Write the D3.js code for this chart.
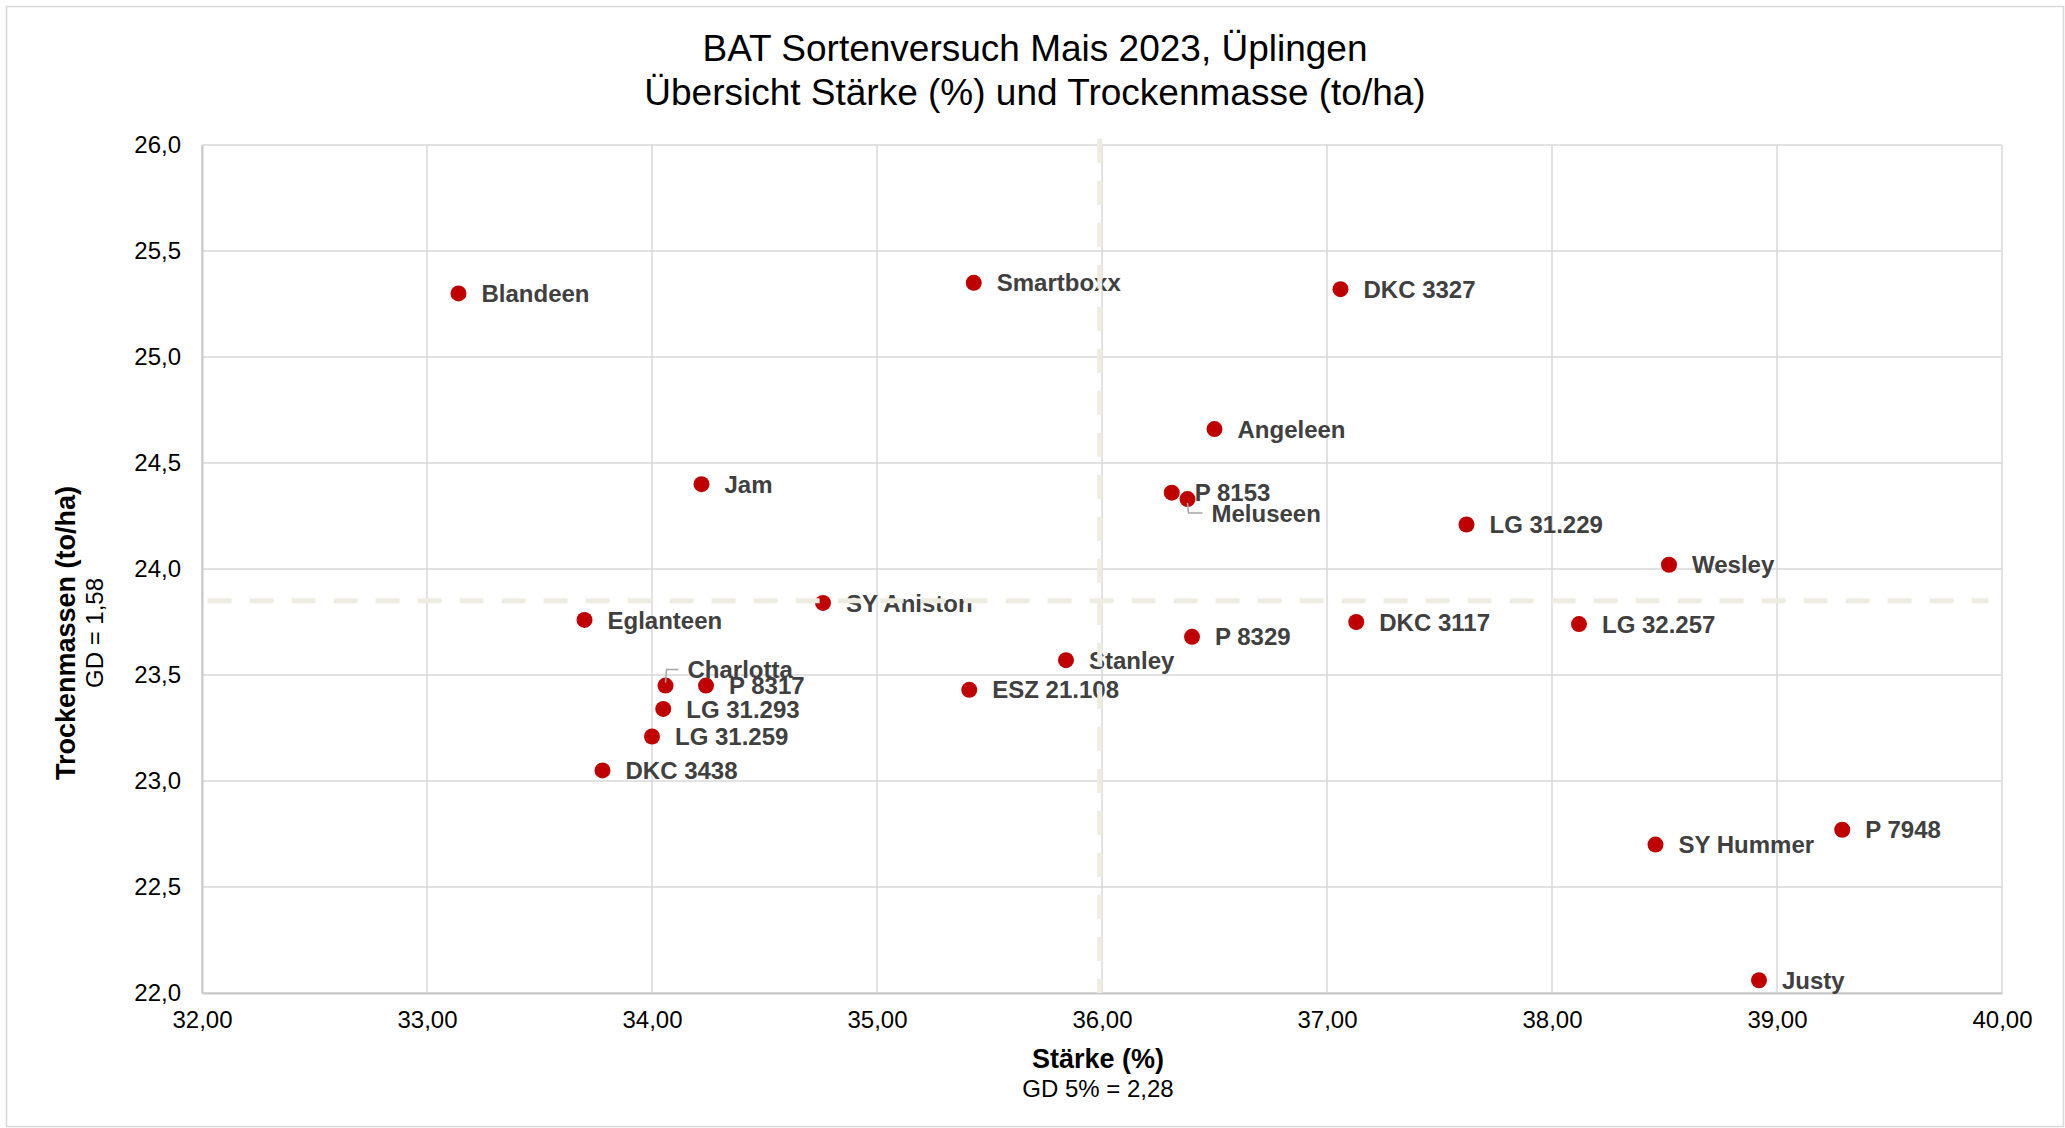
<!DOCTYPE html>
<html>
<head>
<meta charset="utf-8">
<script src="https://cdn.jsdelivr.net/npm/d3@7"></script>
<style>
  body { margin: 0; background: #fff; }
  text { font-family: "Liberation Sans", Arial, sans-serif; }
</style>
</head>
<body>
<div id="chart"></div>
<script>
// Sorten (varieties) and their values
var sorten = ["Blandeen", "Smartboxx", "DKC 3327", "Angeleen", "Jam", "P 8153", "Meluseen",
  "LG 31.229", "Wesley", "SY Aniston", "Eglanteen", "DKC 3117", "LG 32.257", "P 8329",
  "Stanley", "Charlotta", "P 8317", "ESZ 21.108", "LG 31.293", "LG 31.259", "DKC 3438",
  "P 7948", "SY Hummer", "Justy"];
var staerke = [33.14, 35.43, 37.06, 36.50, 34.22, 36.31, 36.38,
  37.62, 38.52, 34.76, 33.70, 37.13, 38.12, 36.40,
  35.84, 34.06, 34.24, 35.41, 34.05, 34.00, 33.78,
  39.29, 38.46, 38.92];
var trockenmasse = [25.30, 25.35, 25.32, 24.66, 24.40, 24.36, 24.33,
  24.21, 24.02, 23.84, 23.76, 23.75, 23.74, 23.68,
  23.57, 23.45, 23.45, 23.43, 23.34, 23.21, 23.05,
  22.77, 22.70, 22.06];
var xTicks = [32, 33, 34, 35, 36, 37, 38, 39, 40];
var yTicks = [22, 22.5, 23, 23.5, 24, 24.5, 25, 25.5, 26];
// Mittelwerte (dashed lines)
var meanStaerke = 35.99;
var meanTM = 23.85;

//Chart dimensions
var W = 2065, H = 1128;
var margin = {top: 145, right: 63, bottom: 135, left: 202};
var w = W - margin.left - margin.right;
var h = H - margin.top - margin.bottom;

// label tweaks (pixel offsets) for crowded points
var labelShift = {
  "Charlotta": {dx: 22, dy: -16, leader: true},
  "Meluseen": {dx: 24, dy: 14, leader: true}
};

var svg = d3.select("#chart").append("svg")
    .attr("width", W).attr("height", H);

// outer chart border
svg.append("rect")
    .attr("x", 6.5).attr("y", 6.5)
    .attr("width", W - 8).attr("height", H - 8)
    .attr("fill", "#fff").attr("stroke", "#D9D9D9").attr("stroke-width", 1.5);

var x = d3.scaleLinear().domain([32, 40]).range([0, w]);
var y = d3.scaleLinear().domain([22, 26]).range([h, 0]);

var g = svg.append("g").attr("transform", "translate(" + margin.left + "," + margin.top + ")");

var fmtX = function(d) { return d3.format(".2f")(d).replace(".", ","); };
var fmtY = function(d) { return d3.format(".1f")(d).replace(".", ","); };

// gridlines
g.append("g").selectAll("line").data(xTicks).join("line")
    .attr("x1", function(d) { return x(d); }).attr("x2", function(d) { return x(d); })
    .attr("y1", 0).attr("y2", h)
    .attr("stroke", "#D9D9D9").attr("stroke-width", 1.5);
g.append("g").selectAll("line").data(yTicks).join("line")
    .attr("x1", 0).attr("x2", w)
    .attr("y1", function(d) { return y(d); }).attr("y2", function(d) { return y(d); })
    .attr("stroke", "#D9D9D9").attr("stroke-width", 1.5);

// axes
var xAxis = g.append("g").attr("transform", "translate(0," + h + ")")
    .call(d3.axisBottom(x).tickValues(xTicks).tickFormat(fmtX).tickSize(0).tickPadding(18));
var yAxis = g.append("g")
    .call(d3.axisLeft(y).tickValues(yTicks).tickFormat(fmtY).tickSize(0).tickPadding(21));
[xAxis, yAxis].forEach(function(a) {
  a.select(".domain").attr("stroke", "#C8C8C8").attr("stroke-width", 2);
  a.selectAll("text").attr("font-size", "24px").attr("fill", "#000")
      .style("font-family", "'Liberation Sans', Arial, sans-serif");
});
xAxis.selectAll("text").attr("dy", "0.71em");

// points
var pts = sorten.map(function(s, i) { return {name: s, x: staerke[i], y: trockenmasse[i]}; });

g.append("g").selectAll("circle").data(pts).join("circle")
    .attr("cx", function(d) { return x(d.x); })
    .attr("cy", function(d) { return y(d.y); })
    .attr("r", 8)
    .attr("fill", "#C00000");

// leader lines
g.append("g").selectAll("path").data(pts.filter(function(d) { return labelShift[d.name]; })).join("path")
    .attr("d", function(d) {
      var cx = x(d.x), cy = y(d.y), s = labelShift[d.name];
      var ty = cy + s.dy;
      return "M" + cx + "," + (cy + (s.dy < 0 ? -3 : 4)) + "L" + (cx + 1) + "," + ty + "L" + (cx + s.dx - 9) + "," + ty;
    })
    .attr("fill", "none").attr("stroke", "#A6A6A6").attr("stroke-width", 1.5);

// labels
g.append("g").selectAll("text").data(pts).join("text")
    .attr("x", function(d) { return x(d.x) + (labelShift[d.name] ? labelShift[d.name].dx : 23); })
    .attr("y", function(d) { return y(d.y) + (labelShift[d.name] ? labelShift[d.name].dy : 0); })
    .attr("dy", "0.36em")
    .attr("font-size", "24px").attr("font-weight", "bold").attr("fill", "#404040")
    .text(function(d) { return d.name; });

// dashed mean lines, drawn on top
g.append("line")
    .attr("x1", x(meanStaerke)).attr("x2", x(meanStaerke))
    .attr("y1", y(26.03)).attr("y2", y(22))
    .attr("stroke", "#EEECE1").attr("stroke-width", 5).attr("stroke-dasharray", "24,18");
g.append("line")
    .attr("x1", x(32.025)).attr("x2", x(39.94))
    .attr("y1", y(meanTM)).attr("y2", y(meanTM))
    .attr("stroke", "#EEECE1").attr("stroke-width", 5).attr("stroke-dasharray", "24,18");

// titles
svg.append("text").attr("x", 1035).attr("y", 61).attr("text-anchor", "middle")
    .attr("font-size", "37px").attr("fill", "#000")
    .text("BAT Sortenversuch Mais 2023, Üplingen");
svg.append("text").attr("x", 1035).attr("y", 105).attr("text-anchor", "middle")
    .attr("font-size", "37px").attr("fill", "#000")
    .text("Übersicht Stärke (%) und Trockenmasse (to/ha)");

// x axis title
svg.append("text").attr("x", 1098).attr("y", 1068).attr("text-anchor", "middle")
    .attr("font-size", "27px").attr("font-weight", "bold").attr("fill", "#000")
    .text("Stärke (%)");
svg.append("text").attr("x", 1098).attr("y", 1097).attr("text-anchor", "middle")
    .attr("font-size", "24px").attr("fill", "#000")
    .text("GD 5% = 2,28");

// y axis title
svg.append("text").attr("transform", "translate(75,633) rotate(-90)").attr("text-anchor", "middle")
    .attr("font-size", "27px").attr("font-weight", "bold").attr("fill", "#000")
    .text("Trockenmassen (to/ha)");
svg.append("text").attr("transform", "translate(103,633) rotate(-90)").attr("text-anchor", "middle")
    .attr("font-size", "24px").attr("fill", "#000")
    .text("GD = 1,58");
</script>
</body>
</html>
